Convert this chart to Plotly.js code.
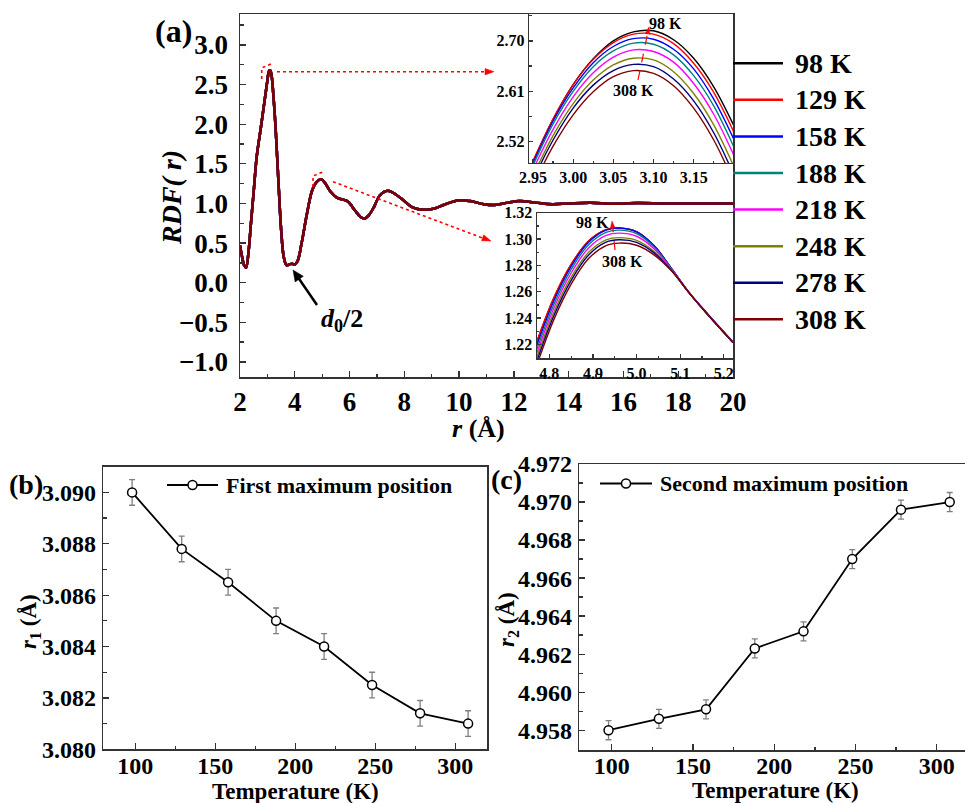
<!DOCTYPE html>
<html>
<head>
<meta charset="utf-8">
<script src="https://cdn.plot.ly/plotly-3.0.1.min.js"></script>
<style>html,body{margin:0;padding:0;background:#fff;}#chart{width:965px;height:803px;}</style>
</head>
<body>
<div id="chart"></div>
<script>
// ---------- data ----------
const tempLabels = ['98 K','129 K','158 K','188 K','218 K','248 K','278 K','308 K'];
const tempColors = ['#000000','#ff0000','#0000ff','#008080','#ff00ff','#808000','#000080','#800000'];

// main RDF (curves overlap at this scale)
const rdfR = [2.0,2.08,2.15,2.22,2.3,2.4,2.5,2.61,2.75,2.9,3.0,3.06,3.1,3.15,3.22,3.3,3.4,3.5,3.6,3.7,3.8,3.9,4.0,4.1,4.25,4.45,4.65,4.85,4.97,5.1,5.3,5.55,5.8,5.95,6.2,6.4,6.55,6.7,6.9,7.1,7.4,7.7,8.0,8.3,8.7,9.1,9.5,10.0,10.4,10.9,11.3,11.8,12.2,12.8,13.4,14.0,14.8,15.6,16.5,17.5,18.5,20.0];
const rdfG = [0.47,0.32,0.22,0.19,0.35,0.75,1.15,1.59,1.93,2.30,2.55,2.67,2.68,2.62,2.36,1.95,1.30,0.68,0.32,0.22,0.23,0.24,0.23,0.27,0.50,0.88,1.18,1.29,1.305,1.26,1.15,1.07,1.045,1.02,0.91,0.83,0.81,0.85,0.96,1.10,1.16,1.11,1.03,0.95,0.92,0.935,0.99,1.04,1.03,0.99,0.98,1.01,1.03,1.01,0.99,1.0,1.01,0.995,1.005,1.0,1.0,1.0];

// inset 1: first peak
const in1R = [2.95,2.975,3.00,3.025,3.05,3.075,3.10,3.125,3.15,3.175,3.205];
const in1_098 = [2.484,2.560,2.622,2.668,2.700,2.716,2.718,2.702,2.669,2.618,2.534];
const in1_129 = [2.486,2.561,2.622,2.667,2.697,2.712,2.712,2.695,2.660,2.608,2.522];
const in1_158 = [2.482,2.557,2.616,2.661,2.690,2.704,2.703,2.685,2.650,2.596,2.509];
const in1_188 = [2.478,2.552,2.610,2.654,2.682,2.696,2.694,2.675,2.638,2.584,2.495];
const in1_218 = [2.470,2.542,2.600,2.643,2.671,2.684,2.681,2.662,2.624,2.569,2.480];
const in1_248 = [2.459,2.531,2.588,2.630,2.657,2.669,2.666,2.645,2.606,2.550,2.460];
const in1_278 = [2.452,2.523,2.580,2.621,2.647,2.658,2.654,2.632,2.593,2.536,2.445];
const in1_308 = [2.441,2.512,2.568,2.609,2.636,2.647,2.642,2.620,2.580,2.523,2.432];

// inset 2: second peak
const in2R = [4.771,4.81,4.85,4.89,4.93,4.96,5.00,5.04,5.08,5.12,5.16,5.221];
const in2_098 = [1.2214,1.2548,1.2806,1.2985,1.3072,1.3085,1.3057,1.2950,1.2775,1.2593,1.2438,1.2214];
const in2_129 = [1.2220,1.2553,1.2809,1.2985,1.3071,1.3083,1.3055,1.2949,1.2775,1.2593,1.2438,1.2214];
const in2_158 = [1.2190,1.2528,1.2792,1.2976,1.3068,1.3083,1.3055,1.2949,1.2777,1.2597,1.2443,1.2220];
const in2_188 = [1.2160,1.2501,1.2769,1.2957,1.3051,1.3068,1.3042,1.2940,1.2772,1.2593,1.2438,1.2214];
const in2_218 = [1.2130,1.2473,1.2742,1.2932,1.3028,1.3045,1.3021,1.2926,1.2769,1.2596,1.2440,1.2216];
const in2_248 = [1.2100,1.2442,1.2710,1.2899,1.2994,1.3011,1.2990,1.2906,1.2764,1.2593,1.2438,1.2214];
const in2_278 = [1.2070,1.2415,1.2686,1.2878,1.2976,1.2994,1.2975,1.2895,1.2761,1.2593,1.2438,1.2214];
const in2_308 = [1.2040,1.2386,1.2658,1.2852,1.2950,1.2969,1.2953,1.2880,1.2758,1.2593,1.2438,1.2214];

// panels (b) and (c)
const tempK = [98,129,158,188,218,248,278,308];
const r1 = [3.0900,3.0878,3.0865,3.0850,3.0840,3.0825,3.0814,3.0810];
const r1Err = [0.0005,0.0005,0.0005,0.0005,0.0005,0.0005,0.0005,0.0005];
const r2 = [4.9580,4.9586,4.9591,4.9623,4.9632,4.9670,4.9696,4.9700];
const r2Err = [0.0005,0.0005,0.0005,0.0005,0.0005,0.0005,0.0005,0.0005];
const seriesB = 'First maximum position';
const seriesC = 'Second maximum position';

// ---------- build ----------
const FONT = "'Liberation Serif', 'Times New Roman', serif";
const W = 965, H = 803;
const X = px => px / W;
const Y = py => 1 - py / H;

const in1Sets = [in1_098,in1_129,in1_158,in1_188,in1_218,in1_248,in1_278,in1_308];
const in2Sets = [in2_098,in2_129,in2_158,in2_188,in2_218,in2_248,in2_278,in2_308];

const traces = [];
tempLabels.forEach((name, i) => {
  traces.push({x: rdfR, y: rdfG, xaxis:'x', yaxis:'y', type:'scatter', mode:'lines', name: name, showlegend:false,
    line:{color: tempColors[i], width: 2.5, shape:'spline', smoothing:1}});
});
tempLabels.forEach((name, i) => {
  traces.push({x: in1R, y: in1Sets[i], xaxis:'x2', yaxis:'y2', type:'scatter', mode:'lines', name: name, showlegend:false,
    line:{color: tempColors[i], width: 1.4, shape:'spline', smoothing:1}});
});
tempLabels.forEach((name, i) => {
  traces.push({x: in2R, y: in2Sets[i], xaxis:'x3', yaxis:'y3', type:'scatter', mode:'lines', name: name, showlegend:false,
    line:{color: tempColors[i], width: 1.4, shape:'spline', smoothing:1}});
});
traces.push({x: tempK, y: r1, xaxis:'x4', yaxis:'y4', type:'scatter', mode:'lines+markers', name:seriesB, showlegend:false,
  line:{color:'#000', width:1.8},
  marker:{symbol:'circle', size:9, color:'#fff', line:{color:'#000', width:1.5}},
  error_y:{type:'data', array:r1Err, visible:true, color:'#808080', thickness:1.3, width:3}});
traces.push({x: tempK, y: r2, xaxis:'x5', yaxis:'y5', type:'scatter', mode:'lines+markers', name:seriesC, showlegend:false,
  line:{color:'#000', width:1.8},
  marker:{symbol:'circle', size:9, color:'#fff', line:{color:'#000', width:1.5}},
  error_y:{type:'data', array:r2Err, visible:true, color:'#808080', thickness:1.3, width:3}});

function ax(extra) {
  return Object.assign({
    showline:true, linecolor:'#333', linewidth:1.5, mirror:true,
    ticks:'inside', ticklen:6, tickwidth:1.3, tickcolor:'#333',
    showgrid:false, zeroline:false, fixedrange:true,
    tickfont:{family:FONT, size:16, weight:'bold', color:'#000'}
  }, extra);
}
const big = {family:FONT, size:27, weight:'bold', color:'#000'};
const mid = {family:FONT, size:23, weight:'bold', color:'#000'};
const midT = {family:FONT, size:24, weight:'bold', color:'#000'};
const ins = {family:FONT, size:16, weight:'bold', color:'#000'};
const leg = {family:FONT, size:28, weight:'bold', color:'#000'};
const legS = {family:FONT, size:22, weight:'bold', color:'#000'};

const layout = {
  width: W, height: H,
  margin:{l:0, r:0, t:0, b:0, pad:0},
  paper_bgcolor:'#fff', plot_bgcolor:'rgba(0,0,0,0)',
  showlegend:false,
  // main
  xaxis: ax({domain:[X(240), X(733)], anchor:'y', range:[2,20], tick0:2, dtick:2, tickfont:big,
    minor:{ticks:'inside', dtick:1, ticklen:3.5, tickcolor:'#333'}}),
  yaxis: ax({domain:[Y(377), Y(14)], anchor:'x', range:[-1.19,3.39], tick0:0, dtick:0.5, tickformat:'.1f', tickfont:big,
    ticklabelstandoff:5, minor:{ticks:'inside', dtick:0.25, ticklen:3.5, tickcolor:'#333'}}),
  // inset 1
  xaxis2: ax({domain:[X(529), X(733)], anchor:'y2', range:[2.945,3.199], tick0:2.95, dtick:0.05, tickformat:'.2f', tickfont:ins,
    linewidth:1.2, ticklen:4, minor:{ticks:'inside', dtick:0.025, ticklen:2.5}}),
  yaxis2: ax({domain:[Y(163), Y(14)], anchor:'x2', range:[2.482,2.748], tick0:2.52, dtick:0.09, tickformat:'.2f', tickfont:ins,
    linewidth:1.2, ticklen:4, minor:{ticks:'inside', dtick:0.045, ticklen:2.5}}),
  // inset 2
  xaxis3: ax({domain:[X(536.7), X(733)], anchor:'y3', range:[4.771,5.221], tick0:4.8, dtick:0.1, tickformat:'.1f', tickfont:ins,
    linewidth:1.2, ticklen:4, minor:{ticks:'inside', dtick:0.05, ticklen:2.5}}),
  yaxis3: ax({domain:[Y(358.3), Y(212.7)], anchor:'x3', range:[1.2094,1.32], tick0:1.22, dtick:0.02, tickformat:'.2f', tickfont:ins,
    linewidth:1.2, ticklen:4, minor:{ticks:'inside', dtick:0.01, ticklen:2.5}}),
  // panel b
  xaxis4: ax({domain:[X(103.3), X(487.3)], anchor:'y4', range:[80,320], tick0:0, dtick:50, tickfont:midT,
    ticklabelstandoff:-6, minor:{ticks:'inside', dtick:25, ticklen:3.5}}),
  yaxis4: ax({domain:[Y(749.3), Y(466.7)], anchor:'x4', range:[3.080,3.091], tick0:3.080, dtick:0.002, tickformat:'.3f', tickfont:midT,
    ticklabelstandoff:1, minor:{ticks:'inside', dtick:0.001, ticklen:3.5}}),
  // panel c
  xaxis5: ax({domain:[X(579.3), 1], anchor:'y5', range:[80,317.4], tick0:0, dtick:50, tickfont:midT,
    ticklabelstandoff:-6, minor:{ticks:'inside', dtick:25, ticklen:3.5}}),
  yaxis5: ax({domain:[Y(750), Y(464)], anchor:'x5', range:[4.95696,4.972], tick0:4.958, dtick:0.002, tickformat:'.3f', tickfont:midT,
    mirror:false, ticklabelstandoff:1, minor:{ticks:'inside', dtick:0.001, ticklen:3.5}}),
  shapes: [],
  annotations: []
};

const S = layout.shapes, A = layout.annotations;
function seg(x0, y0, x1, y1, color, width, dash) {
  S.push({type:'line', xref:'paper', yref:'paper', x0:X(x0), y0:Y(y0), x1:X(x1), y1:Y(y1), line:{color:color, width:width, dash:dash || 'solid'}});
}
function pathPx(pts, color, width, dash) {
  const d = pts.map((p, i) => (i ? 'L ' : 'M ') + X(p[0]) + ' ' + Y(p[1])).join(' ');
  S.push({type:'path', xref:'paper', yref:'paper', path:d, line:{color:color, width:width, dash:dash || 'solid'}});
}
function tri(hx, hy, dx, dy, L, w, color) {
  const n = Math.hypot(dx, dy); dx /= n; dy /= n;
  const bx = hx - L * dx, by = hy - L * dy;
  const p1 = [bx - w * dy, by + w * dx], p2 = [bx + w * dy, by - w * dx];
  S.push({type:'path', xref:'paper', yref:'paper',
    path:`M ${X(hx)} ${Y(hy)} L ${X(p1[0])} ${Y(p1[1])} L ${X(p2[0])} ${Y(p2[1])} Z`,
    fillcolor:color, line:{color:color, width:0.5}});
}
function txt(px, py, text, font, extra) {
  A.push(Object.assign({xref:'paper', yref:'paper', x:X(px), y:Y(py), text:text, showarrow:false, font:font,
    xanchor:'center', yanchor:'middle'}, extra || {}));
}

// red dotted guides and arrows
seg(277, 71.7, 485, 71.7, '#ff0000', 1.6, 'dot');
pathPx([[261.7, 79], [261.7, 68], [273, 63]], '#ff0000', 1.6, 'dot');
tri(494, 71.7, 1, 0, 9, 3.2, '#ff0000');
seg(333, 181.7, 482, 237.8, '#ff0000', 1.6, 'dot');
pathPx([[313, 187], [313, 176], [324, 171.5]], '#ff0000', 1.6, 'dot');
tri(491, 241, 0.936, 0.354, 9, 3.2, '#ff0000');
seg(638, 80, 647.5, 34, '#ff0000', 1.2, 'dash');
tri(649, 27, 0.203, -0.98, 7, 2.4, '#ff0000');
seg(615, 250, 612.8, 228, '#ff0000', 1.2, 'dash');
tri(612, 221, -0.103, -0.995, 7, 2.4, '#ff0000');
// d0/2 arrow
seg(317, 305, 298.5, 278, '#000', 2.5);
tri(293, 270, -0.566, -0.825, 11, 5, '#000');

// main legend (drawn by hand, line samples 50 px long)
tempLabels.forEach((name, i) => {
  const py = 63.3 + 36.57 * i;
  seg(733, py, 783, py, tempColors[i], 2.5);
  txt(793, py, name, leg, {xanchor:'left'});
});
// legends of (b) and (c)
seg(167, 485, 218, 485, '#000', 1.8);
S.push({type:'circle', xref:'paper', yref:'paper', x0:X(188), x1:X(197), y0:Y(480.5), y1:Y(489.5), fillcolor:'#fff', line:{color:'#000', width:1.5}});
txt(224, 485, seriesB, legS, {xanchor:'left'});
seg(600, 483.5, 652, 483.5, '#000', 1.8);
S.push({type:'circle', xref:'paper', yref:'paper', x0:X(621.5), x1:X(630.5), y0:Y(479), y1:Y(488), fillcolor:'#fff', line:{color:'#000', width:1.5}});
txt(658, 483.5, seriesC, legS, {xanchor:'left'});

// labels and titles
txt(173, 31, '(a)', {family:FONT, size:32, weight:'bold', color:'#000'});
txt(26, 484, '(b)', {family:FONT, size:28, weight:'bold', color:'#000'});
txt(507, 479, '(c)', {family:FONT, size:28, weight:'bold', color:'#000'});
txt(171, 198, 'RDF( r)', {family:FONT, size:28, weight:'bold', style:'italic', color:'#000'}, {textangle:-90});
txt(478, 428, '<i>r</i> (Å)', {family:FONT, size:26, weight:'bold', color:'#000'});
txt(295, 791, 'Temperature (K)', mid);
txt(775, 790, 'Temperature (K)', mid);
txt(30, 622, '<i>r</i><sub>1</sub> (Å)', mid, {textangle:-90});
txt(508, 620, '<i>r</i><sub>2</sub> (Å)', mid, {textangle:-90});
txt(342, 320, '<i>d</i><sub>0</sub>/2', {family:FONT, size:26, weight:'bold', color:'#000'});
txt(665, 23.5, '98 K', ins);
txt(633, 90, '308 K', ins);
txt(592, 222, '98 K', ins);
txt(622, 261, '308 K', ins);

Plotly.newPlot('chart', traces, layout, {displayModeBar:false, staticPlot:true});
</script>
</body>
</html>
